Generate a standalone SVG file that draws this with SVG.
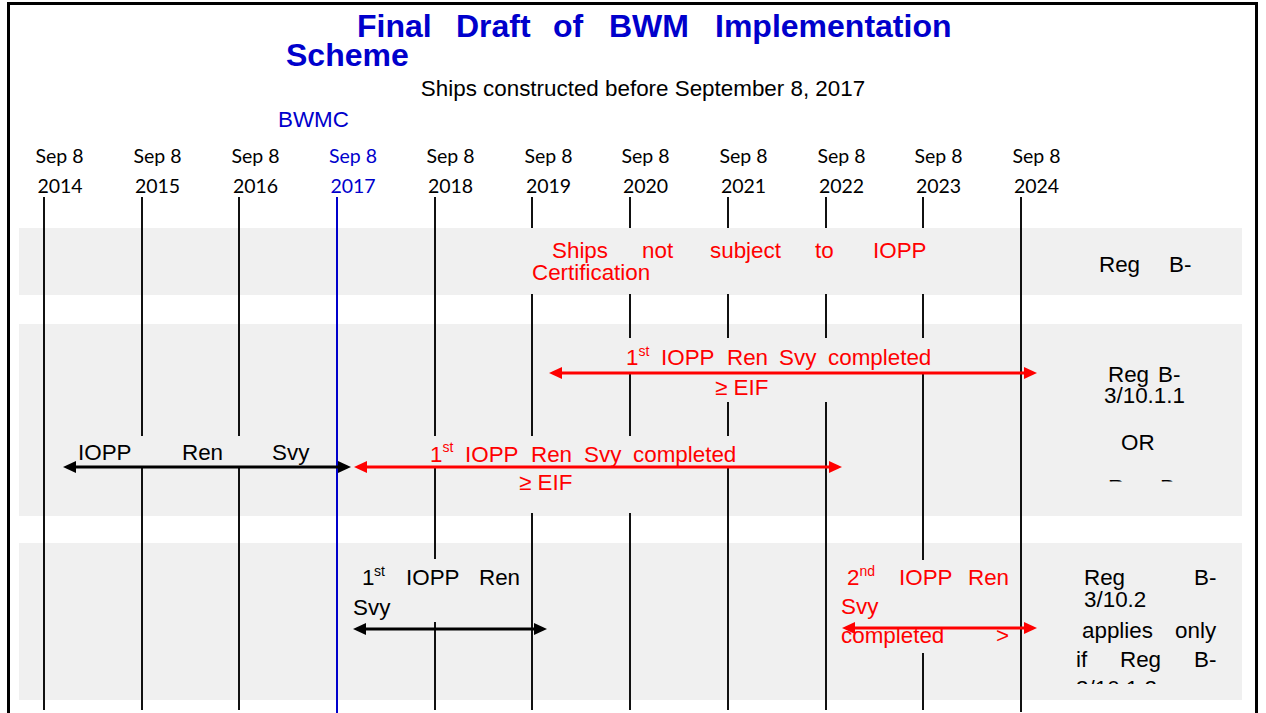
<svg xmlns="http://www.w3.org/2000/svg" width="1266" height="713" viewBox="0 0 1266 713">
<style>
.t{font-family:"Liberation Sans",Arial,sans-serif;font-size:22.4px;fill:#000}
.r{fill:#ff0000}
.b{fill:#0000cc}
.sup{font-size:14px}
.ttl{font-family:"Liberation Sans",Arial,sans-serif;font-size:32px;font-weight:bold;fill:#0000cc}
.yr{font-family:Lato,"Open Sans",sans-serif;font-size:19.5px;fill:#000;text-anchor:middle}
.band{fill:#f0f0f0}
.bg{fill:#f0f0f0}
.grid line{stroke:#111;stroke-width:2}
.ar{stroke-width:3;fill:none}
</style>
<defs>
<marker id="hr" markerUnits="userSpaceOnUse" markerWidth="14" markerHeight="14" refX="0" refY="7" orient="auto-start-reverse" viewBox="0 0 14 14"><path d="M0,1 L13,7 L0,13 z" fill="#ff0000"/></marker>
<marker id="hk" markerUnits="userSpaceOnUse" markerWidth="14" markerHeight="14" refX="0" refY="7" orient="auto-start-reverse" viewBox="0 0 14 14"><path d="M0,1 L13,7 L0,13 z" fill="#000"/></marker>
<clipPath id="c1"><rect x="1090" y="470" width="120" height="11.5"/></clipPath>
<clipPath id="c2"><rect x="1060" y="670" width="160" height="14"/></clipPath>
</defs>
<rect x="0" y="0" width="1266" height="713" fill="#fff"/>
<g id="frame"><rect x="8.5" y="3.5" width="1248" height="730" fill="none" stroke="#000" stroke-width="3"/></g>
<g id="title">
<text class="ttl" x="357" y="37">Final</text>
<text class="ttl" x="456" y="37">Draft</text>
<text class="ttl" x="553" y="37">of</text>
<text class="ttl" x="609" y="37">BWM</text>
<text class="ttl" x="715" y="37">Implementation</text>
<text class="ttl" x="286" y="66">Scheme</text>
<text class="t" x="643" y="96" text-anchor="middle">Ships constructed before September 8, 2017</text>
<text class="t b" x="278" y="127">BWMC</text>
</g>
<g id="bands">
<rect class="band" x="19" y="228" width="1223" height="67"/>
<rect class="band" x="19" y="324" width="1223" height="192"/>
<rect class="band" x="19" y="543" width="1223" height="157"/>
</g>
<g id="years">
<text class="yr" x="59.5" y="163">Sep 8</text><text class="yr" x="60" y="193">2014</text>
<text class="yr" x="157.5" y="163">Sep 8</text><text class="yr" x="157.5" y="193">2015</text>
<text class="yr" x="255.5" y="163">Sep 8</text><text class="yr" x="255.5" y="193">2016</text>
<text class="yr" x="353" y="163" style="fill:#0000cc">Sep 8</text><text class="yr" x="353" y="193" style="fill:#0000cc">2017</text>
<text class="yr" x="450.5" y="163">Sep 8</text><text class="yr" x="450.5" y="193">2018</text>
<text class="yr" x="548.5" y="163">Sep 8</text><text class="yr" x="548.5" y="193">2019</text>
<text class="yr" x="645.5" y="163">Sep 8</text><text class="yr" x="645.5" y="193">2020</text>
<text class="yr" x="743.5" y="163">Sep 8</text><text class="yr" x="743.5" y="193">2021</text>
<text class="yr" x="841.5" y="163">Sep 8</text><text class="yr" x="841.5" y="193">2022</text>
<text class="yr" x="938.5" y="163">Sep 8</text><text class="yr" x="938.5" y="193">2023</text>
<text class="yr" x="1036.5" y="163">Sep 8</text><text class="yr" x="1036.5" y="193">2024</text>
</g>
<g id="timeline" class="grid">
<line x1="44" y1="197" x2="44" y2="710"/>
<line x1="142" y1="197" x2="142" y2="710"/>
<line x1="239" y1="197" x2="239" y2="710"/>
<line x1="337" y1="197" x2="337" y2="713" style="stroke:#0000cc"/>
<line x1="435" y1="197" x2="435" y2="710"/>
<line x1="532" y1="197" x2="532" y2="710"/>
<line x1="630" y1="197" x2="630" y2="710"/>
<line x1="728" y1="197" x2="728" y2="710"/>
<line x1="826" y1="197" x2="826" y2="710"/>
<line x1="923" y1="197" x2="923" y2="710"/>
<line x1="1021" y1="197" x2="1021" y2="712"/>
</g>
<g id="node-not-subject">
<rect class="bg" x="524" y="228" width="406" height="66"/>
<text class="t r" y="258"><tspan x="552">Ships</tspan><tspan x="642">not</tspan><tspan x="710">subject</tspan><tspan x="815">to</tspan><tspan x="873">IOPP</tspan></text>
<text class="t r" x="532" y="280">Certification</text>
</g>
<g id="node-reg-b">
<text class="t" y="272"><tspan x="1099">Reg</tspan><tspan x="1169">B-</tspan></text>
</g>
<g id="node-first-ren-upper">
<rect class="bg" x="560" y="338" width="376" height="34"/>
<rect class="bg" x="690" y="371" width="180" height="31"/>
<text class="t r" y="365"><tspan x="626">1</tspan><tspan class="sup" x="638.5" y="356">st</tspan><tspan x="661" y="365">IOPP</tspan><tspan x="727">Ren</tspan><tspan x="779">Svy</tspan><tspan x="828">completed</tspan></text>
<text class="t r" x="715" y="395">≥ EIF</text>
</g>
<g id="node-reg-b-3-10-1-1">
<text class="t" y="382"><tspan x="1108">Reg</tspan><tspan x="1158">B-</tspan></text>
<text class="t" x="1104" y="403">3/10.1.1</text>
<text class="t" x="1121" y="450">OR</text>
<text class="t" y="495" clip-path="url(#c1)"><tspan x="1108">Reg</tspan><tspan x="1160">B-</tspan></text>
</g>
<g id="node-iopp-ren-svy">
<rect class="bg" x="58" y="436" width="268" height="30"/>
<text class="t" y="460"><tspan x="78">IOPP</tspan><tspan x="182">Ren</tspan><tspan x="272">Svy</tspan></text>
</g>
<g id="node-first-ren-lower">
<rect class="bg" x="345" y="436" width="400" height="31"/>
<rect class="bg" x="480" y="467" width="210" height="46"/>
<text class="t r" y="462"><tspan x="430">1</tspan><tspan class="sup" x="442.5" y="452">st</tspan><tspan x="465" y="462">IOPP</tspan><tspan x="531">Ren</tspan><tspan x="584">Svy</tspan><tspan x="633">completed</tspan></text>
<text class="t r" x="519" y="490">≥ EIF</text>
</g>
<g id="node-first-ren-band3">
<rect class="bg" x="345" y="559" width="180" height="63"/>
<text class="t" y="585"><tspan x="362">1</tspan><tspan class="sup" x="374" y="576">st</tspan><tspan x="406" y="585">IOPP</tspan><tspan x="479">Ren</tspan></text>
<text class="t" x="353" y="615">Svy</text>
</g>
<g id="node-second-ren">
<rect class="bg" x="836" y="560" width="176" height="93"/>
<text class="t r" y="585"><tspan x="847">2</tspan><tspan class="sup" x="859.5" y="576">nd</tspan><tspan x="899" y="585">IOPP</tspan><tspan x="968">Ren</tspan></text>
<text class="t r" x="841" y="614">Svy</text>
<text class="t r" y="643"><tspan x="841">completed</tspan><tspan x="996">&gt;</tspan></text>
</g>
<g id="node-reg-b-3-10-2">
<text class="t" y="585"><tspan x="1084">Reg</tspan><tspan x="1194">B-</tspan></text>
<text class="t" x="1084" y="607">3/10.2</text>
<text class="t" y="638"><tspan x="1082">applies</tspan><tspan x="1175">only</tspan></text>
<text class="t" y="667"><tspan x="1076">if</tspan><tspan x="1120">Reg</tspan><tspan x="1194">B-</tspan></text>
<text class="t" x="1076" y="696" clip-path="url(#c2)">3/10.1.2</text>
</g>
<g id="connectors">
<line class="ar" x1="562" y1="373" x2="1024" y2="373" stroke="#ff0000" marker-start="url(#hr)" marker-end="url(#hr)"/>
<line class="ar" x1="76" y1="467" x2="338" y2="467" stroke="#000" marker-start="url(#hk)" marker-end="url(#hk)"/>
<line class="ar" x1="367" y1="467" x2="829" y2="467" stroke="#ff0000" marker-start="url(#hr)" marker-end="url(#hr)"/>
<line class="ar" x1="366" y1="629" x2="534" y2="629" stroke="#000" marker-start="url(#hk)" marker-end="url(#hk)"/>
<line class="ar" x1="855" y1="628" x2="1024" y2="628" stroke="#ff0000" marker-start="url(#hr)" marker-end="url(#hr)"/>
</g>
</svg>
